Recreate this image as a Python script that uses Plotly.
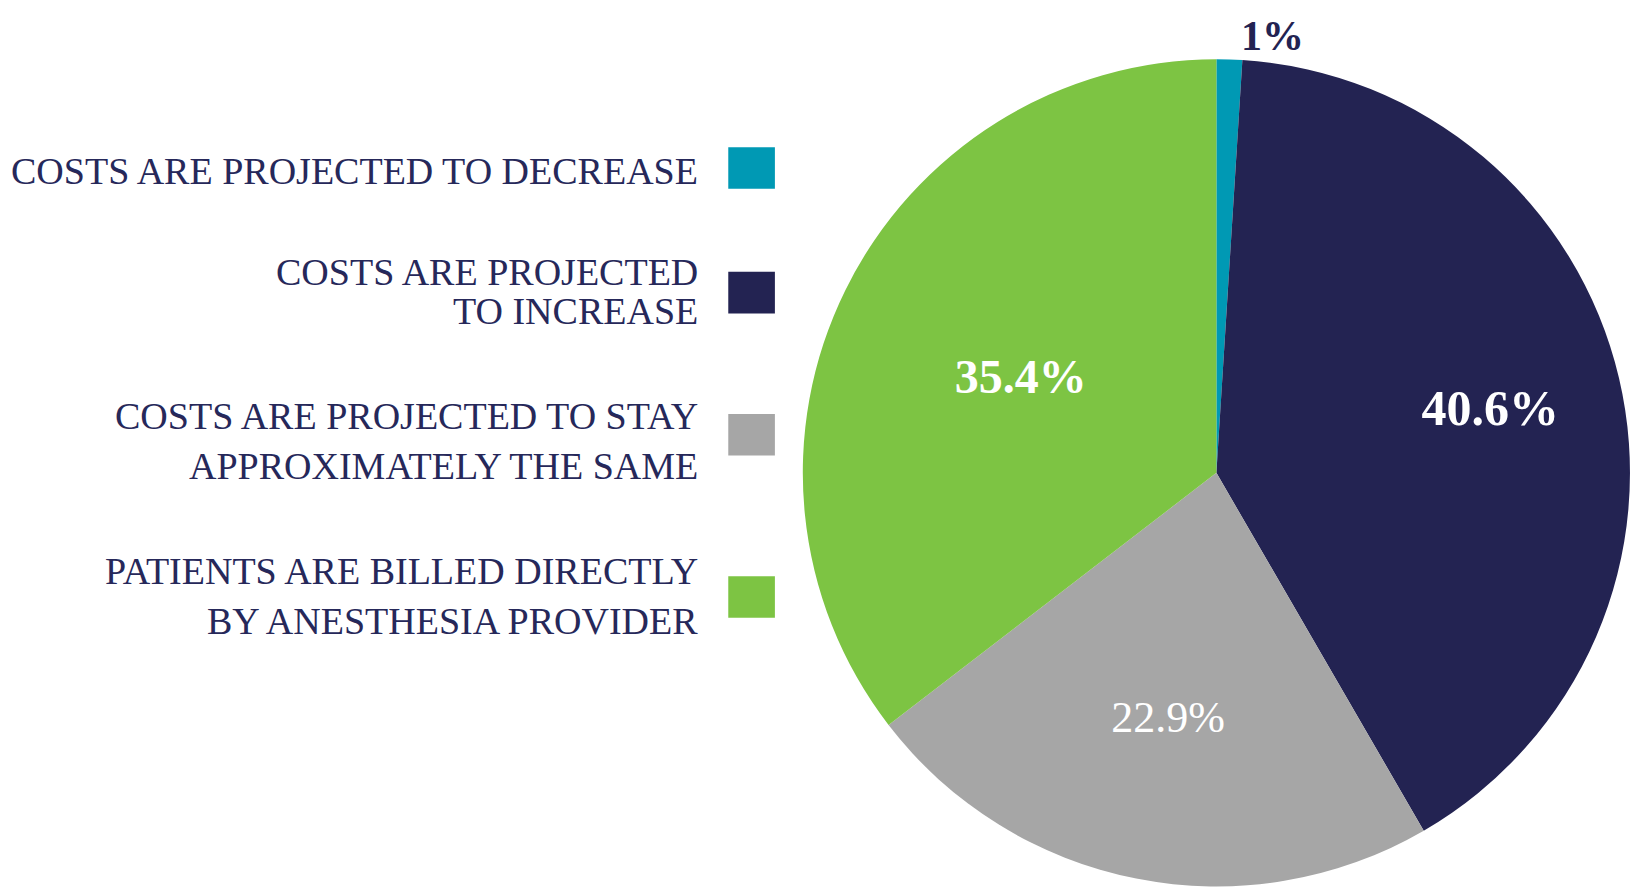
import plotly.graph_objects as go

# ---- data ----
categories = [
    "COSTS ARE PROJECTED TO DECREASE",
    "COSTS ARE PROJECTED<br>TO INCREASE",
    "COSTS ARE PROJECTED TO STAY<br>APPROXIMATELY THE SAME",
    "PATIENTS ARE BILLED DIRECTLY<br>BY ANESTHESIA PROVIDER",
]
values = [1.0, 40.6, 22.9, 35.4]
value_labels = ["1%", "40.6%", "22.9%", "35.4%"]

# ---- styles ----
colors = ["#0099B4", "#232352", "#A6A6A6", "#7DC443"]
text_colors = ["#232352", "#FFFFFF", "#FFFFFF", "#FFFFFF"]
text_bold = [True, True, False, True]
text_sizes = [42, 50, 44, 48]
text_positions = ["outside", "inside", "inside", "inside"]
# the navy label sits farther out in the reference: shown by a text-only ring layer
outer_label = [False, True, False, False]
legend_color = "#26285A"

W, H = 1648, 891
OX, OY = 8, 18               # page offset of the figure in the browser
cx, cy, r = 1226 - OX, 468 - OY, 428   # pie centre / domain half-size (figure px)

texts = [f"<b>{t}</b>" if b else t for t, b in zip(value_labels, text_bold)]
domain = dict(x=[max(0, (cx - r) / W), min(1, (cx + r) / W)],
              y=[max(0, (H - cy - r) / H), min(1, (H - cy + r) / H)])
common = dict(
    values=values,
    labels=[c.replace("<br>", " ") for c in categories],
    textinfo="text",
    insidetextorientation="horizontal",
    sort=False,
    direction="clockwise",
    rotation=0,
    textfont=dict(family="Liberation Serif", color=text_colors, size=text_sizes),
    domain=domain,
    hoverinfo="skip",
    showlegend=False,
)

fig = go.Figure()
fig.add_trace(go.Pie(
    text=[("" if o else t) for t, o in zip(texts, outer_label)],
    textposition=text_positions,
    marker=dict(colors=colors, line=dict(width=0)),
    **common,
))
fig.add_trace(go.Pie(
    text=[(t if o else "") for t, o in zip(texts, outer_label)],
    textposition="inside",
    hole=0.36,
    marker=dict(colors=["rgba(0,0,0,0)"] * len(values), line=dict(width=0)),
    **common,
))

# custom legend: right-aligned text with the swatch on its right (page px)
swatch_y = [152.5, 281.5, 428.5, 596.5]
line_y = [[156], [260.5, 300.5], [409.5, 461], [570, 621.5]]
sw_x0, sw_x1, sw_h = 734, 781, 43
text_right = 706
for cat, col, sy, ly in zip(categories, colors, swatch_y, line_y):
    syf = sy - OY
    fig.add_shape(
        type="rect", xref="paper", yref="paper",
        x0=(sw_x0 - OX) / W, x1=(sw_x1 - OX) / W,
        y0=(H - syf - sw_h / 2) / H, y1=(H - syf + sw_h / 2) / H,
        fillcolor=col, line=dict(width=0),
    )
    for line, yy in zip(cat.split("<br>"), ly):
        fig.add_annotation(
            xref="paper", yref="paper", x=(text_right - OX) / W, y=(H - (yy - OY)) / H,
            xanchor="right", yanchor="middle", align="right",
            text=line, showarrow=False,
            font=dict(family="Liberation Serif", size=38, color=legend_color),
        )

fig.update_layout(
    width=W, height=H,
    margin=dict(l=0, r=0, t=0, b=0),
    paper_bgcolor="white", plot_bgcolor="white",
)

fig.write_html("out.html")
